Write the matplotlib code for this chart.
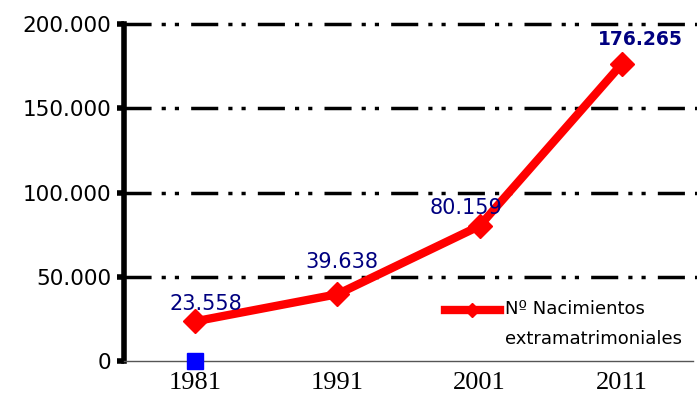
import matplotlib.pyplot as plt
from matplotlib.legend_handler import HandlerLine2D

# datos
anios = ['1981', '1991', '2001', '2011']
nacimientos = [23558, 39638, 80159, 176265]
etiquetas = ['23.558', '39.638', '80.159', '176.265']
serie_azul = [0]
ticks_y = [0, 50000, 100000, 150000, 200000]
ticks_y_txt = ['0', '50.000', '100.000', '150.000', '200.000']


# la linea de la leyenda va a la altura de la primera linea del texto
class HandlerArriba(HandlerLine2D):
    def create_artists(self, legend, orig_handle, xdescent, ydescent,
                       width, height, fontsize, trans):
        return super().create_artists(legend, orig_handle, xdescent, ydescent,
                                      width, height + 21, fontsize, trans)


fig = plt.figure(figsize=(6.97, 4.05), dpi=100)
ax = fig.add_axes([0.178, 0.1086, 0.816, 0.832])

x = list(range(len(anios)))

# rejilla con guion-punto-punto
ax.hlines(ticks_y[1:], -0.5, 3.53, color='black', lw=2.5,
          ls=(0, (7.8, 2.9, 1.2, 2.6, 1.2, 3.5)), clip_on=False, zorder=1)

linea, = ax.plot(x, nacimientos, color='#ff0000', lw=6, marker='D', markersize=12,
                 label='Nº Nacimientos\nextramatrimoniales', zorder=3, clip_on=False)
ax.plot([0], serie_azul, ls='none', marker='s', color='#0000ff', markersize=11,
        clip_on=False, zorder=4)

# etiquetas de datos
desplaz = [(8, 5), (3.5, 16), (-10, 6), (13.5, 11)]
for i, (v, t) in enumerate(zip(nacimientos, etiquetas)):
    ax.annotate(t, (x[i], v), xytext=desplaz[i], textcoords='offset points',
                ha='center', va='bottom', color='#000080',
                fontsize=13.5 if i == 3 else 15,
                fontweight='bold' if i == 3 else 'normal', zorder=5)

ax.set_xlim(-0.5, 3.5)
ax.set_ylim(0, 200000)
ax.set_yticks(ticks_y)
ax.set_yticklabels(ticks_y_txt, fontsize=15.5, fontfamily='DejaVu Sans')
ax.set_xticks(x)
ax.set_xticklabels(anios, fontsize=19, fontfamily='Liberation Serif')

for s in ['top', 'right']:
    ax.spines[s].set_visible(False)
ax.spines['left'].set_linewidth(4)
ax.spines['left'].set_color('black')
ax.spines['bottom'].set_linewidth(1)
ax.spines['bottom'].set_color('#555555')
ax.tick_params(axis='y', length=5, width=4, pad=4)
ax.tick_params(axis='x', length=0, pad=8)

leg = ax.legend(loc='lower right', bbox_to_anchor=(1.01, -0.01), frameon=False,
                fontsize=13, handlelength=3.05, handletextpad=0.3, markerscale=0.6,
                handler_map={linea: HandlerArriba()})
for t in leg.get_texts():
    t.set_linespacing(1.85)

fig.savefig('out.png', dpi=100)
